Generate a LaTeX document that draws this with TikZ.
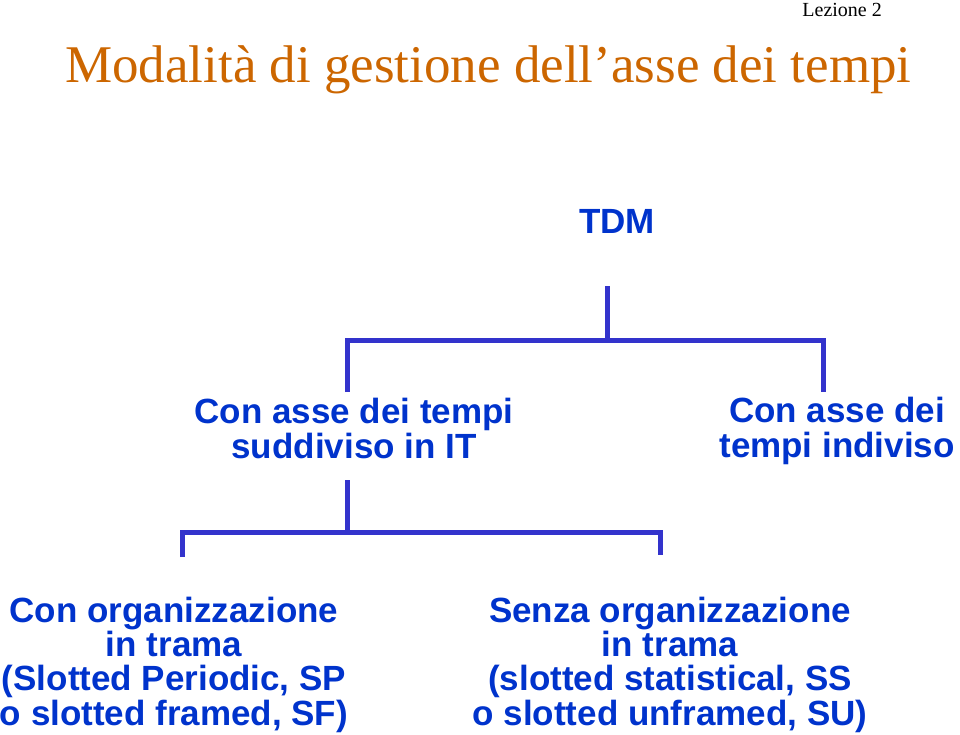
\documentclass[tikz,border=0pt]{standalone}
\usepackage{fontspec}
\setmainfont{Liberation Serif}
\setsansfont{Liberation Sans}
\definecolor{titolo}{RGB}{204,102,0}
\definecolor{blu}{RGB}{0,51,204}
\definecolor{ramo}{RGB}{51,51,204}
\tikzset{
  voce/.style={text=blu, font=\sffamily\bfseries\fontsize{35}{34.3}\selectfont,
    align=center, inner sep=0pt, anchor=base},
  linea/.style={draw=ramo, line width=5pt, line join=miter}
}
\begin{document}
\begin{tikzpicture}[x=1pt, y=-1pt]
\useasboundingbox (0,0) rectangle (960,734);
\node[anchor=base east, inner sep=0pt, font=\fontsize{20}{24}\selectfont] (lez) at (882,16){Lezione 2};
\node[anchor=base west, inner sep=0pt, text=titolo, font=\fontsize{53}{60}\selectfont] (tit) at (65,82){Modalità di gestione dell’asse dei tempi};
\node[voce] (tdm) at (617,233){TDM};
\node[voce] (lab1) at (354,458){Con asse dei tempi\\suddiviso in IT};
\node[voce] (lab2) at (837,457){Con asse dei\\tempi indiviso};
\node[voce] (lab3) at (174,725){Con organizzazione\\in trama\\(Slotted Periodic, SP\\o slotted framed, SF)};
\node[voce] (lab4) at (670,725){Senza organizzazione\\in trama\\(slotted statistical, SS\\o slotted unframed, SU)};
% primo livello
\coordinate (cid0) at (607,286);
\coordinate (cid1) at (607,340);
\coordinate (cid2) at (347,392);
\coordinate (cid3) at (347,340);
\coordinate (cid4) at (823,340);
\coordinate (cid5) at (823,392);
\draw[linea](cid0) -- (cid1);
\draw[linea](cid2) -- (cid3) -- (cid4) -- (cid5);
% secondo livello
\coordinate (cid6) at (347,480);
\coordinate (cid7) at (347,532);
\coordinate (cid8) at (182,557);
\coordinate (cid9) at (182,532);
\coordinate (cid10) at (660,532);
\coordinate (cid11) at (660,555);
\draw[linea](cid6) -- (cid7);
\draw[linea](cid8) -- (cid9) -- (cid10) -- (cid11);

\end{tikzpicture}
\end{document}
